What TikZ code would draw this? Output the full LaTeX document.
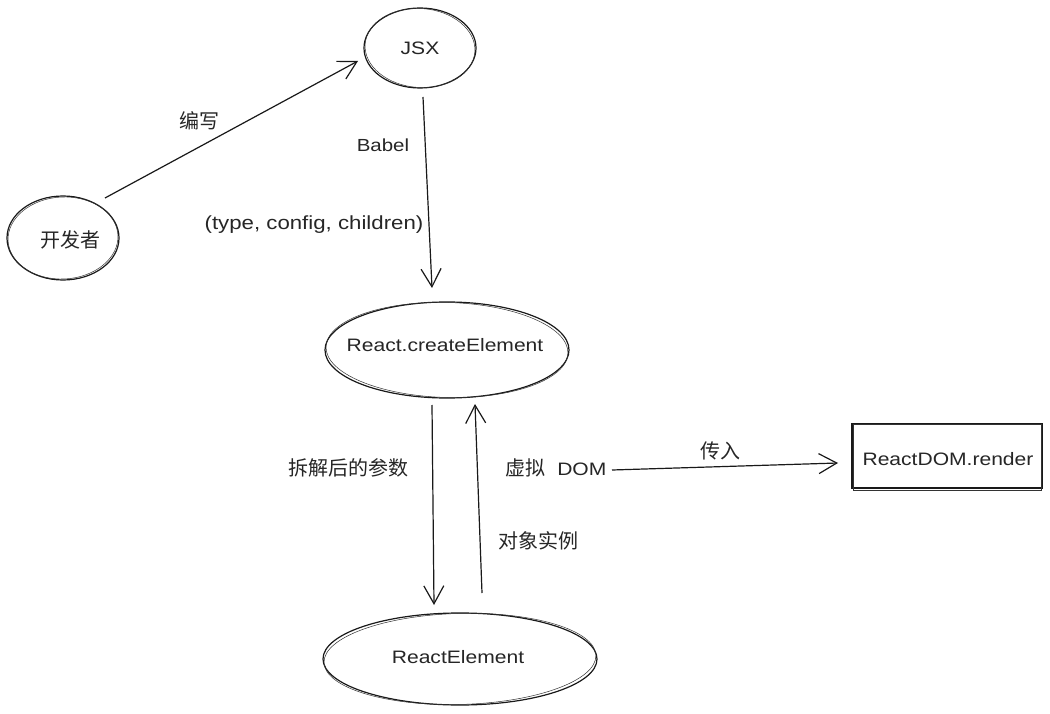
\documentclass[tikz,border=0pt]{standalone}
\usepackage{fontspec}
\setmainfont{Liberation Sans}[FakeStretch=1.17]
\newfontfamily\cjk{Noto Sans CJK SC}
\usetikzlibrary{shapes.geometric,arrows.meta}
\tikzset{
  sk/.style={draw=black!90, line width=1.2pt},
  ell/.style={sk, ellipse, inner sep=0pt},
  lbl/.style={font=\fontsize{18}{20}\selectfont, text=black!85, inner sep=0pt},
  clbl/.style={font=\cjk\fontsize{20}{22}\selectfont, text=black!85, inner sep=0pt},
  arr/.style={draw=black!90, line width=1.2pt, -{Straight Barb[length=18pt,width=20pt,line width=1.2pt]}},
}
\begin{document}
\begin{tikzpicture}[x=1pt,y=-1pt]
\useasboundingbox[fill=white] (0,0) rectangle (1050,714);
% nodes
\node[ell, minimum width=112pt, minimum height=84pt] (dev) at (63,238) {};
\node[clbl] (devt) at (70,240) {开发者};
\node[ell, minimum width=112pt, minimum height=80pt] (jsx) at (420,48) {};
\node[lbl] (jsxt) at (420,48) {JSX};
\node[ell, minimum width=244pt, minimum height=96pt] (ce) at (447,350) {};
\node[lbl] (cet) at (445,345) {React.createElement};
\node[ell, minimum width=274pt, minimum height=92pt] (re) at (460,659) {};
\node[lbl] (ret) at (458,657) {ReactElement};
\node[sk, rectangle, minimum width=190pt, minimum height=64pt, inner sep=0pt] (rd) at (947,456) {};
\node[lbl] (rdt) at (948,459) {ReactDOM.render};
% sketchy second strokes
\draw[line width=0.5pt, black!80, rotate around={3:(dev.center)}] (dev.center) ellipse [x radius=55pt, y radius=41pt];
\draw[line width=0.5pt, black!80, rotate around={-4:(jsx.center)}] (jsx.center) ellipse [x radius=55pt, y radius=39.5pt];
\draw[line width=0.5pt, black!80, rotate around={-1.5:(ce.center)}] (ce.center) ellipse [x radius=121pt, y radius=47.5pt];
\draw[line width=0.5pt, black!80, rotate around={1.5:(re.center)}] (re.center) ellipse [x radius=136pt, y radius=45.5pt];
\draw[line width=0.5pt, black!80] ([shift={(2,1)}]rd.north west) rectangle ([shift={(-1,1.5)}]rd.south east);
% labels
\node[clbl] (l1) at (199,121) {编写};
\node[lbl, font=\fontsize{17.5}{20}\selectfont] (l2) at (383,145) {Babel};
\node[lbl, font=\fontsize{19}{20}\selectfont] (l3) at (314,225) {(type, config, children)};
\node[clbl] (l4) at (348,468) {拆解后的参数};
\node[lbl] (vdom) at (556,468) {{\cjk\fontsize{20}{22}\selectfont 虚拟}\ \ DOM};
\node[clbl] (l6) at (538,541) {对象实例};
\node[clbl] (l7) at (720,451) {传入};
% connectors
\draw[arr] ([shift={(42,-40)}]dev.center) -- ([shift={(-62,13)}]jsx.center);
\draw[arr] ([shift={(3,49)}]jsx.center) -- ([shift={(-15,-62)}]ce.center);
\draw[arr] ([shift={(-15,55)}]ce.center) -- ([shift={(-26,-54)}]re.center);
\draw[arr] ([shift={(22,-66)}]re.center) -- ([shift={(28,54)}]ce.center);
\draw[arr] ([shift={(56,2)}]vdom.center) -- ([shift={(-109,7)}]rd.center);
\end{tikzpicture}
\end{document}
